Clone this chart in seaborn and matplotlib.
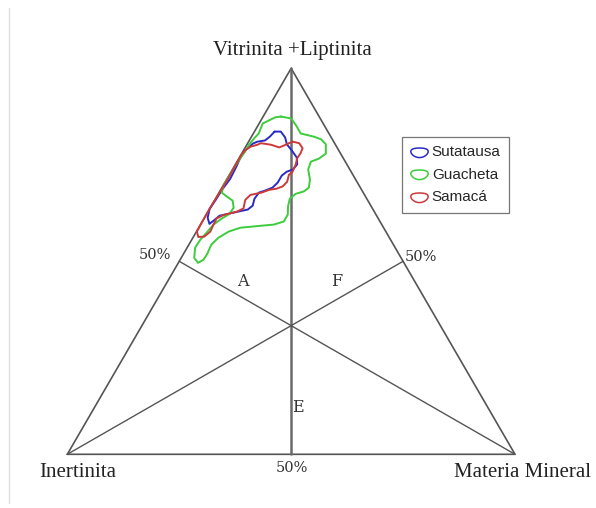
import numpy as np
import pandas as pd
import matplotlib
matplotlib.use("Agg")
import matplotlib.pyplot as plt
from matplotlib.lines import Line2D
from matplotlib.path import Path
import seaborn as sns

# Campos composicionales leidos del diagrama: % Vitrinita+Liptinita y % Materia Mineral
# (Inertinita = 100 - VL - MM)
sut_vl = [83.6, 83.6, 82.1, 80.3, 78.7, 76.9, 75.1, 73.8, 73.2, 72.2, 70.4, 69.1, 68.3, 67.8,
          66.2, 64.4, 63.4, 62.9, 62.3, 61.8, 60.5, 59.7, 61.3, 63.6, 66.0, 68.6, 71.4, 74.5,
          77.1, 78.4, 80.5, 81.0, 81.3, 82.3]
sut_mm = [4.5, 5.9, 7.6, 8.9, 10.8, 12.8, 13.8, 13.5, 12.4, 11.8, 11.8, 11.3, 10.0, 8.9,
          8.7, 9.2, 8.6, 6.8, 4.8, 3.1, 2.4, 1.9, 0.7, 0.0, 0.2, 0.3, 0.7, 0.5,
          0.2, 0.3, 1.2, 2.0, 3.5, 4.1]

gua_vl = [87.5, 87.0, 85.2, 83.1, 82.3, 81.6, 80.3, 77.9, 76.6, 75.8, 73.8, 71.2, 69.1, 68.1,
          67.5, 66.2, 64.2, 62.1, 60.3, 59.5, 59.2, 58.7, 57.7, 56.1, 54.3, 51.9, 50.4, 49.6,
          50.9, 53.5, 55.6, 57.4, 59.5, 61.0, 62.3, 63.9, 65.7, 66.8, 67.8, 69.9, 72.7, 75.3,
          76.6, 78.4, 80.3, 81.8, 83.1, 85.7, 86.5, 87.3]
gua_mm = [4.0, 6.5, 8.5, 10.6, 13.9, 15.9, 17.6, 18.8, 17.9, 16.5, 16.9, 18.6, 19.4, 18.8,
          17.3, 16.6, 17.2, 18.2, 18.2, 16.3, 13.6, 9.3, 7.2, 5.7, 5.0, 5.3, 5.2, 4.4,
          2.9, 1.8, 1.9, 2.4, 2.9, 3.9, 5.1, 5.2, 4.1, 2.2, 0.6, 0.0, 0.1, 0.2,
          0.3, 0.5, 0.5, 0.8, 1.2, 0.8, 1.8, 2.8]

sam_vl = [81.0, 80.6, 79.3, 78.0, 76.7, 75.0, 73.2, 72.4, 70.6, 69.4, 68.8, 68.5, 67.8, 67.2,
          65.9, 63.7, 62.9, 62.0, 61.1, 59.4, 57.7, 56.4, 56.3, 57.7, 60.5, 64.0, 68.0, 72.0,
          76.0, 77.6, 78.9, 79.7, 80.2, 80.6, 80.2, 79.5, 80.2]
sam_mm = [9.8, 11.5, 12.9, 13.1, 13.0, 13.5, 13.7, 13.3, 13.8, 13.4, 12.3, 10.8, 9.5, 7.3,
          6.8, 7.5, 6.5, 3.9, 2.8, 2.9, 3.1, 2.4, 1.1, 0.1, 0.0, 0.0, 0.1, 0.2,
          0.1, 0.1, 0.4, 1.1, 2.4, 2.9, 5.4, 7.6, 8.7]

formaciones = ["Sutatausa", "Guacheta", "Samacá"]
colores = ["#2a2ac8", "#3ccc3c", "#cc3a3a"]

H = 100 * np.sqrt(3) / 2


def a_xy(vl, mm):
    vl = np.asarray(vl, float)
    mm = np.asarray(mm, float)
    return mm + vl / 2, vl * np.sqrt(3) / 2


filas = []
for nombre, vl, mm in zip(formaciones, [sut_vl, gua_vl, sam_vl], [sut_mm, gua_mm, sam_mm]):
    # cerrar el contorno
    x, y = a_xy(vl + vl[:1], mm + mm[:1])
    filas.append(pd.DataFrame({"x": x, "y": y, "formacion": nombre}))
df = pd.concat(filas, ignore_index=True)

sns.set_style("white")
fig = plt.figure(figsize=(5.96, 5.08), dpi=100)
ax = fig.add_axes([67.3 / 596, 1 - 454.3 / 508, 447.7 / 596, 386 / 508])
ax.set_xlim(0, 100)
ax.set_ylim(0, H)
ax.axis("off")

# triangulo y medianas
gris = "#555555"
ax.plot([0, 100, 50, 0], [0, 0, H, 0], color=gris, lw=1.2, clip_on=False)
ax.plot([50, 50], [H, 0], color="#6a6a6a", lw=1.8, clip_on=False)
ax.plot([0, 75], [0, H / 2], color=gris, lw=1.0, clip_on=False)
ax.plot([100, 25], [0, H / 2], color=gris, lw=1.0, clip_on=False)
n_base = len(ax.lines)

sns.lineplot(data=df, x="x", y="y", hue="formacion", units="formacion", estimator=None,
             sort=False, palette=dict(zip(formaciones, colores)), lw=1.4, legend=False, ax=ax)
for l in ax.lines[n_base:]:
    l.set_clip_on(False)
    l.set_solid_joinstyle("round")
    l.set_solid_capstyle("round")

serif = "Liberation Serif"
ax.text(50.2, 90.6, "Vitrinita +Liptinita", family=serif, fontsize=15, color="#222222",
        ha="center", va="center")
ax.text(2.4, -4.0, "Inertinita", family=serif, fontsize=15, color="#222222",
        ha="center", va="center")
ax.text(101.6, -4.0, "Materia Mineral", family=serif, fontsize=15, color="#222222",
        ha="center", va="center")

s2 = "DejaVu Serif"
for x, y in [(19.6, 44.8), (79.0, 44.2), (50.2, -3.0)]:
    ax.text(x, y, "50%", family=s2, fontsize=10.5, color="#333333", ha="center", va="center")
ax.text(39.2, 38.7, "A", family=s2, fontsize=11.5, color="#333333", ha="center", va="center")
ax.text(60.2, 38.7, "F", family=s2, fontsize=11.5, color="#333333", ha="center", va="center")
ax.text(51.5, 10.6, "E", family=s2, fontsize=11.5, color="#333333", ha="center", va="center")

# leyenda con contornos cerrados como simbolo
t = np.linspace(0, 2 * np.pi, 60)
blob = Path(np.column_stack([np.cos(t), 0.55 * np.sin(t) - 0.15 * np.sin(t) ** 2]))
handles = [Line2D([], [], ls="none", marker=blob, markersize=12.5, markerfacecolor="none",
                  markeredgecolor=c, markeredgewidth=1.1) for c in colores]
leg = fig.legend(handles, formaciones, loc="upper left",
                 bbox_to_anchor=(402 / 596, 1 - 137 / 508),
                 frameon=True, fancybox=False, edgecolor="#555555", handlelength=1.1,
                 handletextpad=0.3, labelspacing=0.55, borderpad=0.55, borderaxespad=0,
                 prop={"family": "Liberation Sans", "size": 11})
leg.get_frame().set_linewidth(0.9)

# borde fino a la izquierda
fig.add_artist(Line2D([9 / 596, 9 / 596], [1 - 8 / 508, 1 - 503 / 508], color="#e0e0e0", lw=1))

fig.savefig("out.png", dpi=100)
